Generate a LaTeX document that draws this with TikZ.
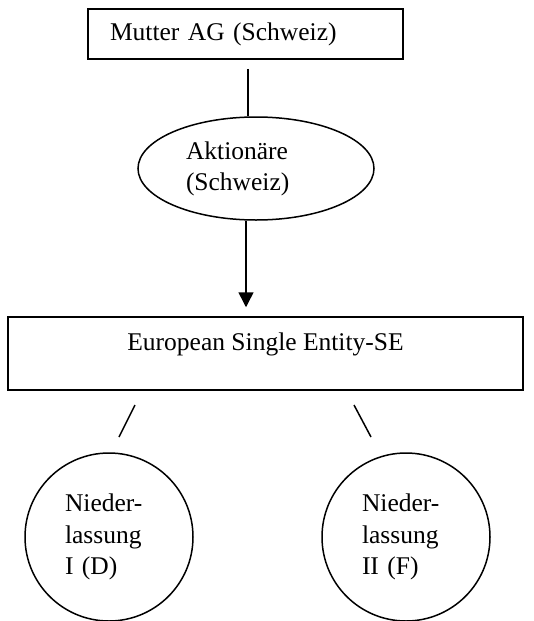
\documentclass[tikz,border=0pt]{standalone}
\usepackage{fontspec}
\setmainfont{Liberation Serif}
\usetikzlibrary{shapes.geometric,arrows.meta}
\begin{document}
\begin{tikzpicture}[x=1pt,y=-1pt,
  every node/.style={font=\fontsize{25.5}{31.5}\selectfont, line width=1.5pt},
  rectbox/.style={draw, rectangle, inner sep=0pt},
  ovalbox/.style={draw, ellipse, inner sep=0pt, minimum width=236pt, minimum height=103pt, text width=140pt, align=left},
  roundbox/.style={draw, circle, inner sep=0pt, minimum size=168pt, text width=88pt, align=left},
  link/.style={line width=1.5pt}]
\useasboundingbox (0,0) rectangle (533,621);
\node[rectbox, minimum width=315pt, minimum height=50pt, text width=271pt, inner xsep=22pt, align=left] (mutter) at (245.5,34) {Mutter AG (Schweiz)};
\node[ovalbox, text height=18pt] (akt) at (256,168.5) {Aktionäre\\(Schweiz)};
\node[rectbox, minimum width=515pt, minimum height=73pt, text height=16pt, text depth=23pt] (se) at (265.5,353.5) {European Single Entity-SE};
\node[roundbox] (n1) at (109,537) {Nieder-\\lassung\\I (D)};
\node[roundbox] (n2) at (406,537) {Nieder-\\lassung\\II (F)};
\coordinate (a1) at (135,405);
\coordinate (a2) at (119,437);
\coordinate (b1) at (354,405);
\coordinate (b2) at (371,437);
\draw[link, shorten <=9pt] (mutter.south -| 248,0) -- (akt.north -| 248,0);
\draw[link, -{Triangle[length=15pt,width=15pt]}, shorten >=9pt] (akt.south -| 246,0) -- (se.north -| 246,0);
\draw[link] (a1) -- (a2);
\draw[link] (b1) -- (b2);
\end{tikzpicture}
\end{document}
